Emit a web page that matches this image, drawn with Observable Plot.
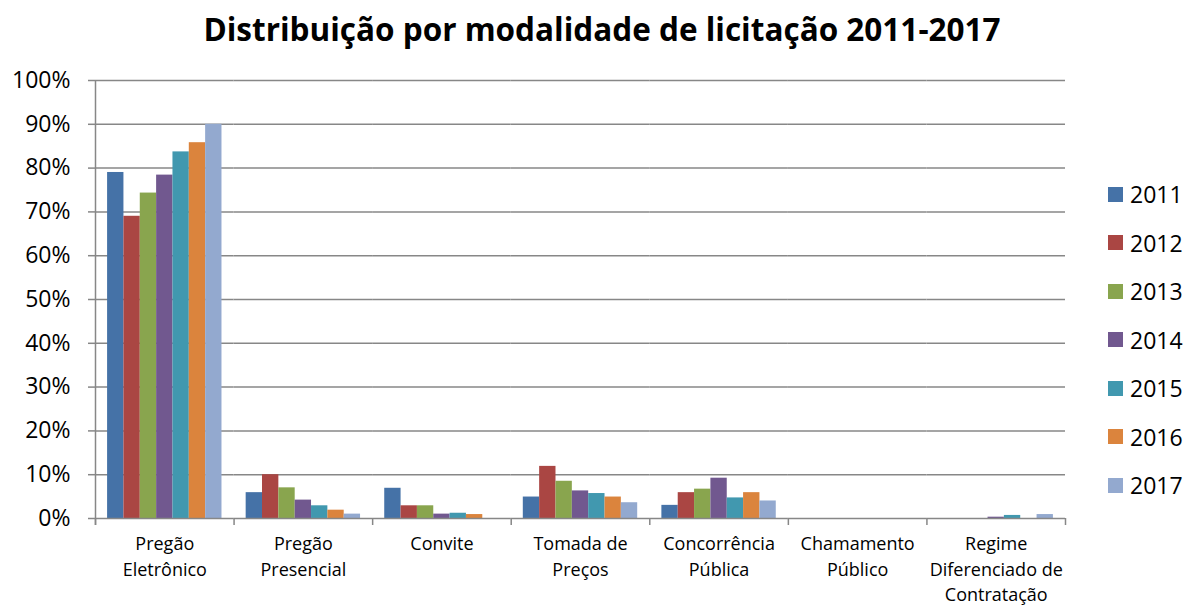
<!DOCTYPE html>
<html>
<head>
<meta charset="utf-8">
<script src="https://cdn.jsdelivr.net/npm/d3@7"></script>
<script src="https://cdn.jsdelivr.net/npm/@observablehq/plot@0.6"></script>
<style>
  html, body { margin: 0; padding: 0; background: #fff; }
  #wrap { position: relative; width: 1186px; height: 605px; font-family: "Open Sans", Lato, sans-serif; }
  #title { height: 60px; line-height: 58px; text-align: center; font-weight: bold; font-size: 31.5px; color: #000; padding-left: 18px; box-sizing: border-box; white-space: nowrap; }
  #legend { position: absolute; left: 1108px; top: 170px; }
  .row { height: 48.5px; display: flex; align-items: center; font-size: 23px; color: #000; }
  .sw { width: 15px; height: 15px; margin-right: 7px; }
</style>
</head>
<body>
<div id="wrap">
  <div id="title">Distribuição por modalidade de licitação 2011-2017</div>
  <div id="chart"></div>
  <div id="legend"></div>
</div>
<script>
const categories = ["Pregão Eletrônico", "Pregão Presencial", "Convite", "Tomada de Preços", "Concorrência Pública", "Chamamento Público", "Regime Diferenciado de Contratação"];
const categoryLabels = ["Pregão\nEletrônico", "Pregão\nPresencial", "Convite", "Tomada de\nPreços", "Concorrência\nPública", "Chamamento\nPúblico", "Regime\nDiferenciado de\nContratação"];
const years = ["2011", "2012", "2013", "2014", "2015", "2016", "2017"];
const colors = ["#4572A7", "#AA4643", "#89A54E", "#71588F", "#4198AF", "#DB843D", "#93A9CF"];

// percent values per year, in category order
const v2011 = [79.0, 5.9, 6.9, 4.9, 3.0, 0, 0];
const v2012 = [69.0, 10.0, 2.9, 11.9, 5.9, 0, 0];
const v2013 = [74.3, 7.0, 2.9, 8.5, 6.7, 0, 0];
const v2014 = [78.4, 4.2, 1.0, 6.3, 9.2, 0, 0.3];
const v2015 = [83.7, 2.9, 1.2, 5.7, 4.7, 0, 0.7];
const v2016 = [85.8, 1.9, 0.9, 4.9, 5.9, 0, 0];
const v2017 = [90.0, 1.0, 0, 3.6, 4.0, 0, 0.9];
const series = [v2011, v2012, v2013, v2014, v2015, v2016, v2017];

const yTicks = [0, 0.1, 0.2, 0.3, 0.4, 0.5, 0.6, 0.7, 0.8, 0.9, 1.0];

const data = [];
categories.forEach((c, i) => years.forEach((y, j) => data.push({category: c, year: y, value: series[j][i] / 100})));
const labelRows = categories.map((c, i) => ({category: c, label: categoryLabels[i]}));

const W = 1186, mL = 95, mR = 121, mT = 20, mB = 87, H = 545;
const pOuter = 0.74;
const facetW = (W - mL - mR) / categories.length;
const step = facetW / (years.length + 2 * pOuter);
const edge = step * pOuter + step / 2;
const plotH = H - mT - mB;
const gray = "#878787";
const mid = years[3];

const chart = Plot.plot({
  width: W, height: H,
  marginTop: mT, marginBottom: mB, marginLeft: mL, marginRight: mR,
  style: {fontFamily: "'Open Sans', Lato, sans-serif", color: "#000", background: "#fff"},
  fx: {domain: categories, padding: 0, round: false, axis: null},
  x: {domain: years, paddingInner: 0, paddingOuter: pOuter, round: false, axis: null},
  y: {domain: [0, 1], axis: null},
  color: {domain: years, range: colors},
  marks: [
    Plot.gridY(yTicks.slice(1), {stroke: gray, strokeOpacity: 1, strokeWidth: 1.5}),
    Plot.barY(data, {fx: "category", x: "year", y: "value", fill: "year"}),
    Plot.ruleY([0], {stroke: gray, strokeWidth: 1.5}),
    Plot.ruleX(categories, {fx: d => d, x: () => years[0], dx: -edge, stroke: gray, strokeWidth: 1.5, insetTop: plotH, insetBottom: -7}),
    Plot.ruleX(categories.slice(-1), {fx: d => d, x: () => years[years.length - 1], dx: edge, stroke: gray, strokeWidth: 1.5, insetTop: plotH, insetBottom: -7}),
    Plot.ruleX(categories.slice(0, 1), {fx: d => d, x: () => years[0], dx: -edge, stroke: gray, strokeWidth: 1.5, insetBottom: -7}),
    Plot.axisY(yTicks, {label: null, tickFormat: d => Math.round(d * 100) + "%", tickSize: 7, tickPadding: 18, fontSize: 23, stroke: gray, strokeWidth: 1.5, fill: "#000"}),
    Plot.text(labelRows, {fx: "category", x: () => mid, y: () => 0, text: "label", lineAnchor: "top", lineHeight: 1.4, dy: 14, fontSize: 18, fill: "#000"})
  ]
});
document.getElementById("chart").appendChild(chart);

const legend = document.getElementById("legend");
years.forEach((y, i) => {
  const row = document.createElement("div");
  row.className = "row";
  const sw = document.createElement("div");
  sw.className = "sw";
  sw.style.background = colors[i];
  const t = document.createElement("span");
  t.textContent = y;
  row.appendChild(sw);
  row.appendChild(t);
  legend.appendChild(row);
});
</script>
</body>
</html>
